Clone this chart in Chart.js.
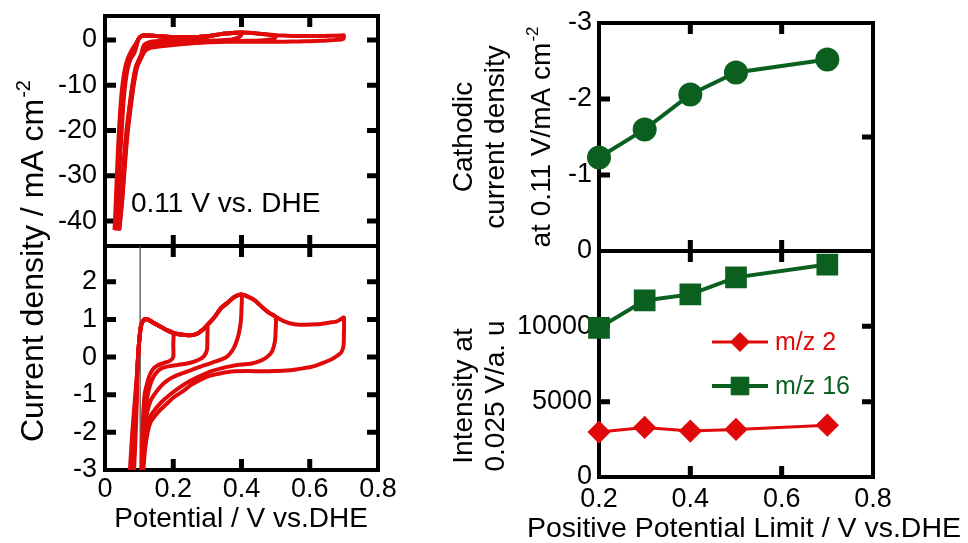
<!DOCTYPE html>
<html>
<head>
<meta charset="utf-8">
<title>CV and positive potential limit</title>
<script src="https://cdn.jsdelivr.net/npm/chart.js@4.4.1/dist/chart.umd.min.js"></script>
<style>
  html, body { margin: 0; padding: 0; background: #fff; }
  #wrap { position: relative; width: 968px; height: 543px; }
  canvas { position: absolute; top: 0; }
  #cvChart { left: 0; }
  #limitChart { left: 400px; }
</style>
</head>
<body>
<div id="wrap">
  <canvas id="cvChart" width="400" height="543"></canvas>
  <canvas id="limitChart" width="568" height="543"></canvas>
</div>
<script>
// ---- data: cyclic voltammograms (E / V, j / mA cm-2) ----
const cvLimits = [0.2, 0.3, 0.4, 0.5, 0.7];

// steep start of each anodic sweep
const cvFoot = [
  [[0.028,-42],[0.032,-35],[0.037,-26],[0.041,-20],[0.046,-14],[0.051,-10],[0.058,-6.5],[0.066,-4.2],[0.073,-3],[0.080,-2],[0.087,-1.2]],
  [[0.030,-42],[0.034,-35],[0.039,-26],[0.043,-20],[0.048,-14],[0.053,-10],[0.060,-6.5],[0.068,-4.2],[0.076,-3],[0.083,-2],[0.089,-1.2]],
  [[0.031,-42],[0.035,-35],[0.041,-26],[0.045,-20],[0.050,-14],[0.055,-10],[0.062,-6.5],[0.071,-4.2],[0.079,-3],[0.086,-2],[0.091,-1.2]],
  [[0.032,-42],[0.037,-35],[0.043,-26],[0.047,-20],[0.052,-14],[0.057,-10],[0.064,-6.5],[0.073,-4.2],[0.082,-3],[0.088,-2],[0.092,-1.2]],
  [[0.033,-42],[0.038,-35],[0.044,-26],[0.049,-20],[0.054,-14],[0.059,-10],[0.066,-6.5],[0.075,-4.2],[0.085,-3],[0.090,-2],[0.093,-1.2]]
];

// shared anodic sweep
const cvAnodic = [
  [0.095,-0.3],[0.100,0.4],[0.106,0.85],[0.115,1.0],[0.125,1.0],[0.14,0.92],[0.16,0.82],[0.18,0.72],
  [0.2,0.64],[0.22,0.6],[0.25,0.58],[0.27,0.62],[0.29,0.75],[0.3,0.85],[0.32,1.05],[0.34,1.3],
  [0.36,1.45],[0.38,1.6],[0.4,1.66],[0.42,1.6],[0.44,1.5],[0.46,1.33],[0.48,1.18],[0.5,1.07],
  [0.52,0.97],[0.55,0.88],[0.58,0.86],[0.62,0.87],[0.66,0.92],[0.68,0.95],[0.69,1.0],[0.7,1.05]
];

// cathodic sweeps, one per positive limit
const cvCathodic = [
  [[0.2,0.35],[0.2,0.0],[0.19,-0.1],[0.175,-0.15],[0.155,-0.22],[0.14,-0.33],[0.13,-0.5],[0.122,-0.75],
   [0.116,-1.0],[0.112,-1.5],[0.109,-2.2],[0.107,-3],[0.1,-4.2],[0.09,-6],[0.08,-10],[0.071,-15],
   [0.063,-20],[0.057,-25],[0.052,-30],[0.046,-36],[0.038,-42]],
  [[0.3,0.5],[0.299,0.2],[0.29,0.02],[0.275,-0.07],[0.25,-0.15],[0.22,-0.2],[0.19,-0.24],[0.165,-0.3],
   [0.15,-0.42],[0.138,-0.6],[0.128,-0.88],[0.12,-1.3],[0.115,-1.8],[0.111,-2.4],[0.108,-3],[0.101,-4.2],
   [0.091,-6],[0.081,-10],[0.072,-15],[0.064,-20],[0.058,-25],[0.053,-30],[0.047,-36],[0.039,-42]],
  [[0.4,1.3],[0.398,0.95],[0.393,0.66],[0.385,0.4],[0.375,0.2],[0.36,0.03],[0.34,-0.07],[0.32,-0.13],
   [0.29,-0.22],[0.26,-0.32],[0.23,-0.42],[0.2,-0.53],[0.18,-0.64],[0.164,-0.77],[0.148,-0.95],[0.134,-1.15],
   [0.124,-1.45],[0.118,-1.8],[0.114,-2.2],[0.111,-2.7],[0.109,-3.1],[0.102,-4.2],[0.092,-6],[0.082,-10],
   [0.073,-15],[0.065,-20],[0.059,-25],[0.054,-30],[0.048,-36],[0.04,-42]],
  [[0.5,0.7],[0.498,0.42],[0.49,0.16],[0.475,0.0],[0.455,-0.1],[0.43,-0.17],[0.4,-0.2],[0.37,-0.24],
   [0.34,-0.3],[0.31,-0.38],[0.28,-0.5],[0.25,-0.63],[0.22,-0.8],[0.19,-1.0],[0.165,-1.2],[0.148,-1.38],
   [0.134,-1.55],[0.124,-1.85],[0.117,-2.25],[0.113,-2.7],[0.11,-3.1],[0.103,-4.2],[0.093,-6],[0.083,-10],
   [0.074,-15],[0.066,-20],[0.06,-25],[0.055,-30],[0.049,-36],[0.041,-42]],
  [[0.7,0.6],[0.699,0.3],[0.692,0.12],[0.68,0.03],[0.66,-0.08],[0.64,-0.15],[0.62,-0.22],[0.6,-0.27],
   [0.58,-0.3],[0.56,-0.33],[0.53,-0.36],[0.5,-0.37],[0.46,-0.38],[0.42,-0.37],[0.38,-0.38],[0.35,-0.41],
   [0.33,-0.45],[0.3,-0.52],[0.28,-0.6],[0.25,-0.75],[0.23,-0.9],[0.2,-1.08],[0.18,-1.25],[0.16,-1.42],
   [0.145,-1.58],[0.134,-1.72],[0.125,-2.0],[0.118,-2.4],[0.114,-2.8],[0.111,-3.2],[0.104,-4.3],[0.094,-6],
   [0.084,-10],[0.075,-15],[0.067,-20],[0.061,-25],[0.056,-30],[0.05,-36],[0.042,-42]]
];

const markerPotential = 0.103;
const cvPotentialTicks = [0, 0.2, 0.4, 0.6, 0.8];
const cvFullTicks = [0, -10, -20, -30, -40];
const cvZoomTicks = [2, 1, 0, -1, -2, -3];

// ---- data: vs positive potential limit ----
const limits = [0.2, 0.3, 0.4, 0.5, 0.7];
const cathodicCurrent = [-1.23, -1.60, -2.06, -2.35, -2.52];
const intensityMz2 = [2980, 3290, 3050, 3160, 3440];
const intensityMz16 = [9900, 11720, 12120, 13250, 14100];
const limitTicks = [0.2, 0.4, 0.6, 0.8];
const currentTicks = [-3, -2, -1, 0];
const intensityTicks = [0, 5000, 10000];

const RED = "#e00a0a";
const GREEN = "#0b6020";
const FONT = '"Liberation Sans", Arial, sans-serif';

const framePlugin = {
  id: "panelFrame",
  beforeDatasetsDraw(chart, args, opts) {
    const ctx = chart.ctx;
    const { left, right } = chart.chartArea;
    const xs = chart.scales.x;
    const len = 11;
    ctx.save();
    ctx.strokeStyle = "#000";
    (opts.panels || []).forEach(p => {
      const ys = chart.scales[p.y];
      ctx.lineWidth = 4;
      ctx.strokeRect(left, ys.top, right - left, ys.bottom - ys.top);
      ctx.lineWidth = 5;
      ctx.beginPath();
      (p.left || []).forEach(v => { const py = ys.getPixelForValue(v); ctx.moveTo(left, py); ctx.lineTo(left + len, py); });
      (p.right || []).forEach(v => { const py = ys.getPixelForValue(v); ctx.moveTo(right, py); ctx.lineTo(right - len, py); });
      (p.top || []).forEach(v => { const px = xs.getPixelForValue(v); ctx.moveTo(px, ys.top); ctx.lineTo(px, ys.top + len); });
      (p.bottom || []).forEach(v => { const px = xs.getPixelForValue(v); ctx.moveTo(px, ys.bottom); ctx.lineTo(px, ys.bottom - len); });
      ctx.stroke();
    });
    ctx.restore();
  }
};

const textPlugin = {
  id: "freeText",
  afterDraw(chart, args, opts) {
    const ctx = chart.ctx;
    (opts.items || []).forEach(it => {
      ctx.save();
      ctx.translate(it.x, it.y);
      if (it.rot) ctx.rotate(it.rot * Math.PI / 180);
      ctx.fillStyle = it.color || "#000";
      ctx.textBaseline = "alphabetic";
      ctx.textAlign = "left";
      const supSize = Math.round(it.size * 0.62);
      ctx.font = it.size + "px " + FONT;
      const w1 = ctx.measureText(it.text).width;
      let w2 = 0;
      if (it.sup) {
        ctx.font = supSize + "px " + FONT;
        w2 = ctx.measureText(it.sup).width + 1;
      }
      const x0 = it.align === "center" ? -(w1 + w2) / 2 : 0;
      ctx.font = it.size + "px " + FONT;
      ctx.fillText(it.text, x0, 0);
      if (it.sup) {
        ctx.font = supSize + "px " + FONT;
        ctx.fillText(it.sup, x0 + w1 + 1, -it.size * 0.42);
      }
      ctx.restore();
    });
  }
};

const legendPlugin = {
  id: "insideLegend",
  afterDatasetsDraw(chart, args, opts) {
    if (!opts.rows) return;
    const ctx = chart.ctx;
    opts.rows.forEach(row => {
      const ds = chart.data.datasets[row.index];
      ctx.save();
      ctx.strokeStyle = ds.borderColor;
      ctx.lineWidth = ds.borderWidth;
      ctx.beginPath();
      ctx.moveTo(opts.x, row.y);
      ctx.lineTo(opts.x + opts.length, row.y);
      ctx.stroke();
      ctx.fillStyle = ds.pointBackgroundColor;
      ctx.lineWidth = 1;
      Chart.helpers.drawPoint(ctx, { pointStyle: ds.pointStyle, radius: ds.pointRadius, borderWidth: 1, rotation: 0 }, opts.x + opts.length / 2, row.y);
      ctx.fillStyle = ds.borderColor;
      ctx.font = opts.size + "px " + FONT;
      ctx.textBaseline = "middle";
      ctx.fillText(ds.label, opts.x + opts.length + opts.gap, row.y + 1);
      ctx.restore();
    });
  }
};

function toPoints(pairs) {
  return pairs.map(p => ({ x: p[0], y: p[1] }));
}

function fixedTicks(values) {
  return s => { s.ticks = values.map(v => ({ value: v })); };
}

// fixed axis size, and no extra room asked for the edge labels
function fitWidth(w) {
  return s => { s.width = w; s.paddingTop = 0; s.paddingBottom = 0; };
}
function fitHeight(h) {
  return s => { s.height = h; s.paddingLeft = 0; s.paddingRight = 0; };
}

function tickFont() {
  return { size: 27, family: FONT };
}

document.addEventListener("DOMContentLoaded", function() {
  Chart.defaults.font.family = FONT;
  Chart.defaults.color = "#000";

  const cvLoops = cvLimits.map((lim, i) =>
    cvFoot[i].concat(cvAnodic.filter(p => p[0] <= lim), cvCathodic[i]));

  const cvDatasets = [];
  cvLoops.forEach((loop, i) => {
    ["yTop", "yBot"].forEach(axis => {
      cvDatasets.push({
        label: cvLimits[i] + " V",
        data: toPoints(loop),
        yAxisID: axis,
        borderColor: RED,
        borderWidth: 4,
        pointRadius: 0,
        tension: 0.2,
        fill: false
      });
    });
  });
  cvDatasets.push({
    label: "marker",
    data: [{ x: markerPotential, y: -3 }, { x: markerPotential, y: 3 }],
    yAxisID: "yBot",
    borderColor: "#444",
    borderWidth: 1.2,
    pointRadius: 0
  });

  const yCommon = {
    type: "linear",
    position: "left",
    grid: { display: false, drawTicks: false },
    border: { display: false },
    ticks: { font: tickFont(), color: "#000", padding: 8, autoSkip: false, callback: v => String(v) }
  };

  new Chart(document.getElementById("cvChart"), {
    type: "line",
    data: { datasets: cvDatasets },
    options: {
      responsive: false,
      animation: false,
      devicePixelRatio: 1,
      layout: { padding: { top: 16, right: 22, bottom: 0, left: 0 } },
      scales: {
        x: {
          type: "linear", min: 0, max: 0.8,
          afterBuildTicks: fixedTicks(cvPotentialTicks),
          afterFit: fitHeight(73),
          grid: { display: false, drawTicks: false },
          border: { display: false },
          ticks: { font: tickFont(), color: "#000", padding: 3, maxRotation: 0, autoSkip: false, callback: v => String(v) }
        },
        yTop: Object.assign({}, yCommon, {
          stack: "cv", stackWeight: 230, weight: 2, min: -45.5, max: 5.3,
          afterBuildTicks: fixedTicks(cvFullTicks),
          afterFit: fitWidth(105)
        }),
        yBot: Object.assign({}, yCommon, {
          stack: "cv", stackWeight: 224, weight: 1, min: -3, max: 2.95,
          afterBuildTicks: fixedTicks(cvZoomTicks),
          afterFit: fitWidth(105)
        })
      },
      plugins: {
        legend: { display: false },
        tooltip: { enabled: false },
        panelFrame: {
          panels: [
            { y: "yTop", left: cvFullTicks, right: cvFullTicks, top: [0.2, 0.4, 0.6], bottom: [0.2, 0.4, 0.6] },
            { y: "yBot", left: [2, 1, 0, -1, -2], right: [2, 1, 0, -1, -2], top: [0.2, 0.4, 0.6], bottom: [0.2, 0.4, 0.6] }
          ]
        },
        freeText: {
          items: [
            { text: "Current density / mA cm", sup: "-2", x: 43, y: 442, rot: -90, size: 32 },
            { text: "0.11 V vs. DHE", x: 131, y: 212, size: 28 },
            { text: "Potential / V vs.DHE", x: 241, y: 527, align: "center", size: 28 }
          ]
        }
      }
    },
    plugins: [framePlugin, textPlugin]
  });

  const yRight = Object.assign({}, yCommon, {
    ticks: { font: tickFont(), color: "#000", padding: 7, autoSkip: false, callback: v => String(v) }
  });

  new Chart(document.getElementById("limitChart"), {
    type: "line",
    data: {
      datasets: [
        {
          label: "Cathodic current density",
          data: limits.map((x, i) => ({ x: x, y: cathodicCurrent[i] })),
          yAxisID: "yTop",
          borderColor: GREEN, backgroundColor: GREEN, pointBackgroundColor: GREEN, pointBorderColor: GREEN,
          borderWidth: 4, pointStyle: "circle", pointRadius: 10, clip: false
        },
        {
          label: "m/z 2",
          data: limits.map((x, i) => ({ x: x, y: intensityMz2[i] })),
          yAxisID: "yBot",
          borderColor: RED, backgroundColor: RED, pointBackgroundColor: RED, pointBorderColor: RED,
          borderWidth: 3, pointStyle: "rectRot", pointRadius: 9.5, clip: false
        },
        {
          label: "m/z 16",
          data: limits.map((x, i) => ({ x: x, y: intensityMz16[i] })),
          yAxisID: "yBot",
          borderColor: GREEN, backgroundColor: GREEN, pointBackgroundColor: GREEN, pointBorderColor: GREEN,
          borderWidth: 4, pointStyle: "rect", pointRadius: 12.5, clip: false
        }
      ]
    },
    options: {
      responsive: false,
      animation: false,
      devicePixelRatio: 1,
      layout: { padding: { top: 23, right: 95, bottom: 0, left: 0 } },
      scales: {
        x: {
          type: "linear", min: 0.2, max: 0.8,
          afterBuildTicks: fixedTicks(limitTicks),
          afterFit: fitHeight(66),
          grid: { display: false, drawTicks: false },
          border: { display: false },
          ticks: { font: tickFont(), color: "#000", padding: 6, maxRotation: 0, autoSkip: false, callback: v => String(v) }
        },
        yTop: Object.assign({}, yRight, {
          stack: "lim", stackWeight: 228, weight: 2, min: -3, max: 0, reverse: true,
          afterBuildTicks: fixedTicks(currentTicks),
          afterFit: fitWidth(199)
        }),
        yBot: Object.assign({}, yRight, {
          stack: "lim", stackWeight: 226, weight: 1, min: 0, max: 15000,
          afterBuildTicks: fixedTicks(intensityTicks),
          afterFit: fitWidth(199)
        })
      },
      plugins: {
        legend: { display: false },
        tooltip: { enabled: false },
        panelFrame: {
          panels: [
            { y: "yTop", left: [-2, -1], right: [-1.5], top: [0.4, 0.6], bottom: [0.4, 0.6] },
            { y: "yBot", left: [5000, 10000], right: [5000, 10000], top: [0.4, 0.6], bottom: [0.4, 0.6] }
          ]
        },
        insideLegend: {
          x: 312, length: 56, gap: 7, size: 25,
          rows: [{ index: 1, y: 342 }, { index: 2, y: 386 }]
        },
        freeText: {
          items: [
            { text: "Cathodic", x: 72, y: 137, rot: -90, align: "center", size: 28 },
            { text: "current density", x: 104, y: 137, rot: -90, align: "center", size: 28 },
            { text: "at 0.11 V/mA cm", sup: "-2", x: 150, y: 137, rot: -90, align: "center", size: 28 },
            { text: "Intensity at", x: 72, y: 396, rot: -90, align: "center", size: 28 },
            { text: "0.025 V/a. u", x: 104, y: 396, rot: -90, align: "center", size: 28 },
            { text: "Positive Potential Limit / V vs.DHE", x: 344, y: 537, align: "center", size: 28.5 }
          ]
        }
      }
    },
    plugins: [framePlugin, textPlugin, legendPlugin]
  });
});
</script>
</body>
</html>
